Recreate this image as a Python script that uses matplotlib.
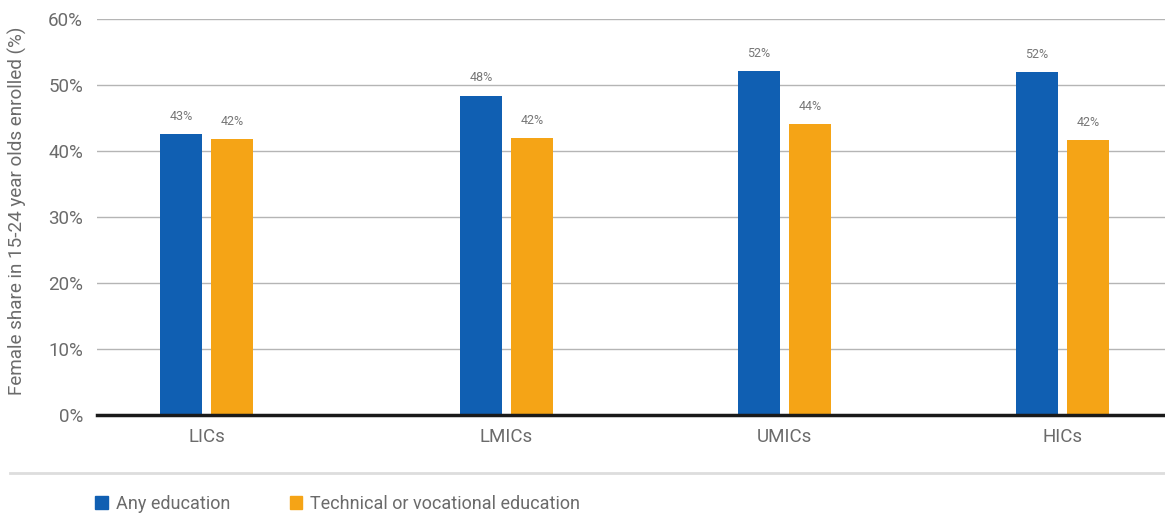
import matplotlib
matplotlib.use("Agg")
import matplotlib.pyplot as plt
from matplotlib.patches import Patch

plt.rcParams['font.family'] = ['Roboto', 'DejaVu Sans']

categories = ["LICs", "LMICs", "UMICs", "HICs"]
any_education = [42.6, 48.4, 52.1, 52.0]
technical_vocational = [41.8, 42.0, 44.1, 41.7]
series_names = ["Any education", "Technical or vocational education"]
yticks = [0, 10, 20, 30, 40, 50, 60]

# layout
positions = [0.0, 1.079, 2.079, 3.079]
bar_w = 0.151
offset = 0.0917
blue = "#105FB2"
orange = "#F5A416"
grey_text = "#6b6b6b"

fig = plt.figure(figsize=(11.65, 5.18), dpi=100)
ax = fig.add_axes([97/1165, 103/518, 1 - 97/1165, (415-19)/518])

xb = [p - offset for p in positions]
xo = [p + offset for p in positions]
b1 = ax.bar(xb, any_education, width=bar_w, color=blue, zorder=3)
b2 = ax.bar(xo, technical_vocational, width=bar_w, color=orange, zorder=3)

for bars, vals in ((b1, any_education), (b2, technical_vocational)):
    for rect, v in zip(bars, vals):
        ax.annotate(f"{round(v):.0f}%", (rect.get_x() + rect.get_width()/2, v),
                    xytext=(0, 8), textcoords="offset points",
                    ha="center", va="bottom", fontsize=9, color="#777777")

ax.set_ylim(0, 60)
ax.set_xlim(-0.394, 3.448)
ax.set_yticks(yticks)
ax.set_yticklabels([f"{t}%" for t in yticks])
ax.set_xticks(positions)
ax.set_xticklabels(categories)
ax.tick_params(axis="both", length=0, labelsize=13.5, labelcolor=grey_text)
ax.tick_params(axis="y", pad=10)
ax.tick_params(axis="x", pad=9)
ax.grid(axis="y", color="#b5b5b5", linewidth=1, zorder=0)
for s in ("top", "right", "left"):
    ax.spines[s].set_visible(False)
ax.spines["bottom"].set_color("#1a1a1a")
ax.spines["bottom"].set_linewidth(2.5)
ax.spines["bottom"].set_zorder(4)

ax.set_ylabel("Female share in 15-24 year olds enrolled (%)", fontsize=13.6,
              color=grey_text, labelpad=6)
ax.yaxis.set_label_coords(-0.066, 0.515)

# separator line
fig.add_artist(plt.Line2D([10/1165, 1], [1 - 473/518, 1 - 473/518],
                          color="#dddddd", linewidth=2, transform=fig.transFigure))

handles = [Patch(color=blue), Patch(color=orange)]
fig.legend(handles, series_names, loc="center left",
           bbox_to_anchor=(95/1165, 1 - 504/518), ncol=2, frameon=False,
           fontsize=13, labelcolor=grey_text, handlelength=0.7, handleheight=0.7,
           handletextpad=0.45, columnspacing=3.3, borderaxespad=0, borderpad=0)

fig.savefig("out.png", dpi=100)
